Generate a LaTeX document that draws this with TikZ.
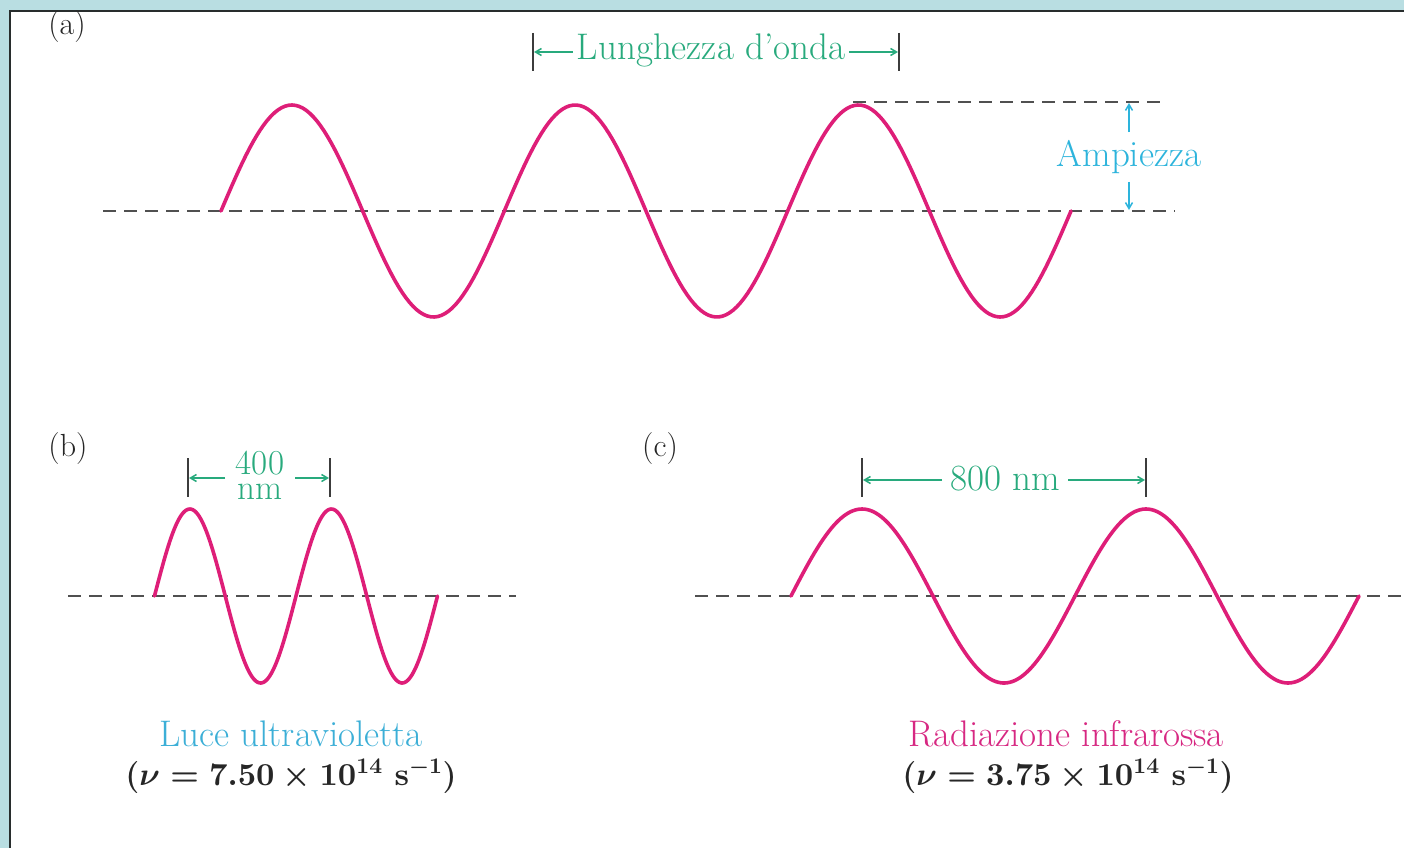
\documentclass[tikz,border=0pt]{standalone}
\usetikzlibrary{arrows.meta}
\DeclareFontShape{OT1}{cmr}{m}{n}{<->cmr10}{}
\DeclareFontShape{OT1}{cmr}{bx}{n}{<->cmbx10}{}
\DeclareFontShape{OML}{cmm}{m}{it}{<->cmmi10}{}
\DeclareFontShape{OML}{cmm}{b}{it}{<->cmmib10}{}
\DeclareFontShape{OMS}{cmsy}{m}{n}{<->cmsy10}{}
\DeclareFontShape{OMS}{cmsy}{b}{n}{<->cmbsy10}{}
\DeclareFontShape{OMX}{cmex}{m}{n}{<->cmex10}{}
\definecolor{frameblue}{RGB}{185,222,226}
\definecolor{framedark}{RGB}{40,45,45}
\definecolor{wavemag}{RGB}{222,30,120}
\definecolor{dimgreen}{RGB}{40,170,125}
\definecolor{ampcyan}{RGB}{45,180,220}
\definecolor{uvblue}{RGB}{60,175,215}
\definecolor{irpink}{RGB}{215,40,130}
\definecolor{dashgray}{RGB}{80,80,80}
\definecolor{tickgray}{RGB}{60,60,60}
\tikzset{
  lab/.style={font=\fontsize{37}{44}\selectfont, inner sep=0pt},
  smalllab/.style={font=\fontsize{35}{40}\selectfont, inner sep=0pt},
  formula/.style={font=\fontsize{32}{40}\selectfont\bfseries\boldmath, inner sep=0pt, text=black!85},
  panel/.style={font=\fontsize{32}{38}\selectfont, inner sep=0pt, text=black!85},
  wave/.style={draw=wavemag, line width=3.6pt, line cap=round, line join=round},
  axisline/.style={draw=dashgray, line width=2pt, dash pattern=on 13pt off 8pt},
  tickline/.style={draw=tickgray, line width=2pt},
  dimarrow/.style={draw=dimgreen, line width=1.5pt, -{Straight Barb[length=6pt,width=7pt]}},
  amparrow/.style={draw=ampcyan, line width=1.5pt, -{Straight Barb[length=6pt,width=7pt]}},
}
\begin{document}
\begin{tikzpicture}[x=1pt,y=-1pt]
\useasboundingbox (0,0) rectangle (1404,848);
\fill[frameblue] (0,0) rectangle (1404,848);
\fill[white] (10,11) rectangle (1404,848);
\draw[framedark, line width=2.5pt] (10,848) -- (10,11) -- (1404,11);

% ---------- (a) ----------
\node[panel] (pa) at (67,27) {(a)};
\draw[axisline] (103,211) -- (1175,211);
\draw[axisline] (853,102) -- (1165,102);
\draw[wave] plot[domain=221:1071, samples=240] (\x, {211-106*sin((\x-221)/283.33*360)});

\coordinate (la1) at (533,33); \coordinate (la2) at (533,71);
\coordinate (lb1) at (899,33); \coordinate (lb2) at (899,71);
\draw[tickline] (la1) -- (la2);
\draw[tickline] (lb1) -- (lb2);
\coordinate (lL) at (534,52); \coordinate (lR) at (898,52);
\node[lab, text=dimgreen, inner xsep=4pt] (lwave) at (711,50) {Lunghezza d'onda};
\draw[dimarrow] (lwave.west |- lL) -- (lL);
\draw[dimarrow] (lwave.east |- lR) -- (lR);

\node[lab, text=ampcyan, inner sep=8pt] (amp) at (1129,157) {Ampiezza};
\coordinate (aT) at (1129,103); \coordinate (aB) at (1129,210);
\draw[amparrow] (amp.north) -- (aT);
\draw[amparrow] (amp.south) -- (aB);

% ---------- (b) ----------
\node[panel] (pb) at (68,449) {(b)};
\draw[axisline] (68,596) -- (516,596);
\draw[wave] plot[domain=154.5:437.5, samples=200] (\x, {596-87*sin((\x-154.5)/141.5*360)});
\coordinate (ba1) at (188,458); \coordinate (ba2) at (188,497);
\coordinate (bb1) at (330,458); \coordinate (bb2) at (330,497);
\draw[tickline] (ba1) -- (ba2);
\draw[tickline] (bb1) -- (bb2);
\node[smalllab, text=dimgreen, anchor=base] (b400) at (260,474) {400};
\node[smalllab, text=dimgreen, anchor=base] (bnm) at (260,499) {nm};
\coordinate (bL) at (189,478); \coordinate (bR) at (329,478);
\coordinate (bLs) at (225,478); \coordinate (bRs) at (295,478);
\draw[dimarrow] (bLs) -- (bL);
\draw[dimarrow] (bRs) -- (bR);
\node[lab, text=uvblue] (uv) at (291,734) {Luce ultravioletta};
\node[formula] (uvf) at (291,776) {($\nu = 7.50 \times 10^{14}\ \mathbf{s}^{-1}$)};

% ---------- (c) ----------
\node[panel] (pc) at (660,449) {(c)};
\draw[axisline] (695,596) -- (1404,596);
\draw[wave] plot[domain=791:1359, samples=240] (\x, {596-87*sin((\x-791)/284*360)});
\coordinate (ca1) at (862,458); \coordinate (ca2) at (862,497);
\coordinate (cb1) at (1146,458); \coordinate (cb2) at (1146,497);
\draw[tickline] (ca1) -- (ca2);
\draw[tickline] (cb1) -- (cb2);
\node[lab, text=dimgreen, inner xsep=8pt] (c800) at (1005,479) {800 nm};
\coordinate (cL) at (863,480); \coordinate (cR) at (1145,480);
\draw[dimarrow] (c800.west |- cL) -- (cL);
\draw[dimarrow] (c800.east |- cR) -- (cR);
\node[lab, text=irpink] (ir) at (1066,734) {Radiazione infrarossa};
\node[formula] (irf) at (1068,776) {($\nu = 3.75 \times 10^{14}\ \mathbf{s}^{-1}$)};
\end{tikzpicture}
\end{document}
